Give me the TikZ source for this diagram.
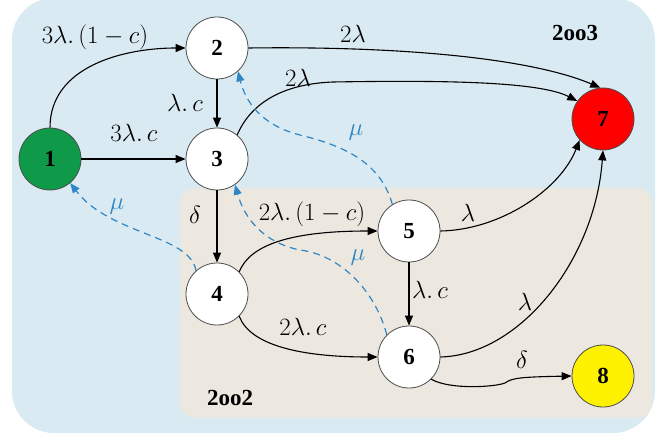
\documentclass[tikz,border=0pt]{standalone}
\usepackage{fontspec}
\setmainfont{Liberation Serif}
\usetikzlibrary{arrows.meta}
\definecolor{bgblue}{HTML}{DAEAF2}
\definecolor{bgbeige}{HTML}{ECE8DF}
\definecolor{mublue}{HTML}{2F86C6}
\definecolor{ngreen}{HTML}{0E9A48}
\tikzset{
  st/.style={circle, draw=black!70, line width=0.8pt, fill=white, minimum size=62pt, inner sep=0pt, font=\fontsize{23}{26}\selectfont\bfseries},
  arr/.style={draw=black, line width=1.1pt, -{Triangle[length=10pt,width=8pt]}},
  rep/.style={draw=mublue, line width=1.2pt, dash pattern=on 7pt off 5pt, -{Triangle[length=10pt,width=8pt]}},
  lbl/.style={font=\fontsize{24}{27}\selectfont, inner sep=0pt},
  mulbl/.style={font=\fontsize{24}{27}\selectfont, inner sep=0pt, text=mublue},
  grp/.style={font=\fontsize{23}{26}\selectfont\bfseries, inner sep=0pt},
}
\begin{document}
\begin{tikzpicture}[x=1pt,y=-1pt]
\useasboundingbox (0,0) rectangle (670,441);
\fill[bgblue, rounded corners=42pt] (12,-2) rectangle (655,433);
\fill[bgbeige, rounded corners=15pt] (180,188) rectangle (652,418);

\node[st, fill=ngreen] (n1) at (50,159) {1};
\node[st] (n2) at (217,48) {2};
\node[st] (n3) at (217,159) {3};
\node[st] (n4) at (217,294) {4};
\node[st] (n5) at (409,231) {5};
\node[st] (n6) at (409,357) {6};
\node[st, fill=red] (n7) at (603,119) {7};
\node[st, fill=yellow] (n8) at (603,376) {8};

\draw[arr] (n1.north) to[out=90,in=180] (n2.west);
\draw[arr] (n1) -- (n3);
\draw[arr] (n2) -- (n3);
\draw[arr] (n3) -- (n4);
\draw[arr] (n5) -- (n6);
\draw[arr] (n2.east) .. controls (400,46) and (530,58) .. (n7.95);
\draw[arr] (n3.50) .. controls (250,105) and (280,84) .. (333,82) .. controls (450,80) and (540,82) .. (n7.145);
\draw[arr] (n4.45) .. controls (250,245) and (290,231) .. (n5.west);
\draw[arr] (n4.-45) .. controls (250,345) and (300,357) .. (n6.west);
\draw[arr] (n5.east) .. controls (500,230) and (560,190) .. (n7.222);
\draw[arr] (n6.east) .. controls (520,355) and (595,260) .. (n7.south);
\draw[arr] (n6.-45) .. controls (450,390) and (495,387) .. (505,383) .. controls (512,378) and (520,377) .. (n8.west);

\draw[rep] (n4.132) .. controls (190,235) and (110,235) .. (n1.-50);
\draw[rep] (n5.122) .. controls (380,160) and (340,145) .. (300,135) .. controls (260,125) and (245,100) .. (n2.-48);
\draw[rep] (n6.135) .. controls (375,290) and (340,255) .. (300,250) .. controls (265,243) and (245,220) .. (n3.-55);

\node[lbl] (l12) at (95,37) {$3\lambda.\,(1-c)$};
\node[lbl] (l13) at (134,133) {$3\lambda.\,c$};
\node[lbl] (l23) at (185,103) {$\lambda.\,c$};
\node[lbl] (l27) at (353,34) {$2\lambda$};
\node[lbl] (l37) at (298,78) {$2\lambda$};
\node[lbl] (l34) at (195,215) {$\delta$};
\node[lbl] (l45) at (312,214) {$2\lambda.\,(1-c)$};
\node[lbl] (l46) at (303,327) {$2\lambda.\,c$};
\node[lbl] (l56) at (430,290) {$\lambda.\,c$};
\node[lbl] (l57) at (468,213) {$\lambda$};
\node[lbl] (l67) at (525,302) {$\lambda$};
\node[lbl] (l68) at (522,360) {$\delta$};
\node[mulbl] (m41) at (117,207) {$\mu$};
\node[mulbl] (m52) at (356,133) {$\mu$};
\node[mulbl] (m63) at (358,258) {$\mu$};
\node[grp] (g3) at (575,33) {2oo3};
\node[grp] (g2) at (230,398) {2oo2};
\end{tikzpicture}
\end{document}
